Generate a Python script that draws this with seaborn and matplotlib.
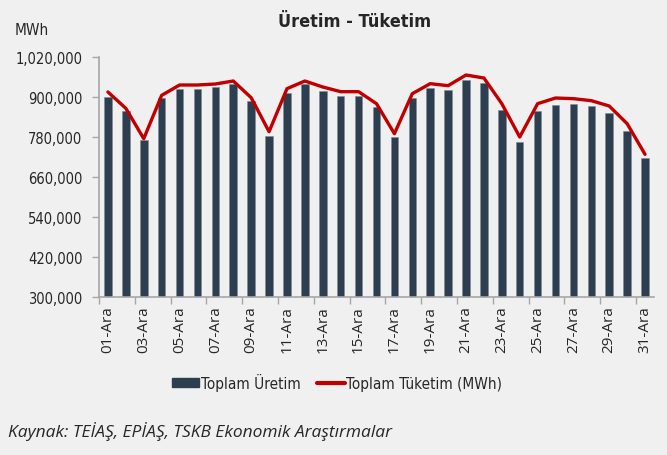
import numpy as np
import pandas as pd
import matplotlib
matplotlib.use("Agg")
import matplotlib.pyplot as plt
import seaborn as sns
from matplotlib.patches import Patch
from matplotlib.lines import Line2D
from matplotlib.ticker import FuncFormatter, FixedLocator

days = ["%02d-Ara" % d for d in range(1, 32)]
uretim = [900000, 857000, 770000, 896000, 923000, 923000, 929000, 939000, 888000, 783000,
          911000, 939000, 917000, 902000, 902000, 869000, 780000, 896000, 926000, 920000,
          950000, 941000, 861000, 765000, 858000, 875000, 878000, 872000, 851000, 798000, 717000]
tuketim = [915000, 866000, 775000, 905000, 936000, 936000, 939000, 948000, 898000, 796000,
           925000, 948000, 930000, 916000, 916000, 880000, 790000, 910000, 940000, 934000,
           966000, 957000, 880000, 780000, 880000, 897000, 895000, 889000, 873000, 820000, 728000]
y_ticks = [300000, 420000, 540000, 660000, 780000, 900000, 1020000]

bg = "#F0F0F0"
bar_col = "#2C3E50"
line_col = "#C00000"
axis_col = "#A6A6A6"

sns.set_style("white")
plt.rcParams["font.family"] = ["DejaVu Sans"]
plt.rcParams["font.stretch"] = "condensed"

df = pd.DataFrame({"gun": days, "uretim": uretim, "tuketim": tuketim})
df["pos"] = np.arange(len(df))

fig = plt.figure(figsize=(6.67, 4.56), dpi=100, facecolor=bg)
ax = fig.add_axes([0.1484, 0.3465, 0.8321, 0.5263])
ax.set_facecolor(bg)

sns.barplot(data=df, x="gun", y="uretim", color=bar_col, width=0.42,
            saturation=1, edgecolor="#7F8B97", linewidth=0.4, ax=ax)
sns.lineplot(data=df, x="pos", y="tuketim", color=line_col, linewidth=2.4, ax=ax)

ax.set_xlim(-0.5, len(days) - 0.5)
ax.set_ylim(300000, 1020000)
ax.set_yticks(y_ticks)
ax.yaxis.set_major_formatter(FuncFormatter(lambda v, p: "{:,.0f}".format(v)))
ax.tick_params(axis="y", labelsize=10.5, length=5, color=axis_col, width=1, pad=7, left=True)

# etiketler iki günde bir, çentikler kategori aralarında
ax.set_xticks(df["pos"][::2])
ax.set_xticklabels(df["gun"][::2], rotation=90, family="Open Sans", fontsize=11, stretch="normal")
ax.tick_params(axis="x", length=0, pad=6)
ax.xaxis.set_minor_locator(FixedLocator(np.arange(-0.5, len(days) - 1, 2)))
ax.tick_params(axis="x", which="minor", length=5, color=axis_col, width=1, bottom=True)

for s in ["top", "right"]:
    ax.spines[s].set_visible(False)
for s in ["left", "bottom"]:
    ax.spines[s].set_color(axis_col)
    ax.spines[s].set_linewidth(1.2)
ax.set_xlabel("")
ax.set_ylabel("")

fig.text(0.532, 0.951, "Üretim - Tüketim", ha="center", va="center", fontsize=13, fontweight="bold")
fig.text(0.022, 0.934, "MWh", ha="left", va="center", fontsize=11)

handles = [Patch(facecolor=bar_col, edgecolor=bar_col, label="Toplam Üretim"),
           Line2D([0], [0], color=line_col, linewidth=3, label="Toplam Tüketim (MWh)")]
fig.legend(handles=handles, loc="center", bbox_to_anchor=(0.505, 0.16), ncol=2, frameon=False,
           fontsize=11, handlelength=1.8, handleheight=0.5, handletextpad=0.1, columnspacing=1.1)

fig.text(0.012, 0.053, "Kaynak: TEİAŞ, EPİAŞ, TSKB Ekonomik Araştırmalar", ha="left", va="center",
         fontsize=12.5, style="italic", family="Open Sans", stretch="normal")

fig.savefig("out.png", dpi=100, facecolor=bg)
